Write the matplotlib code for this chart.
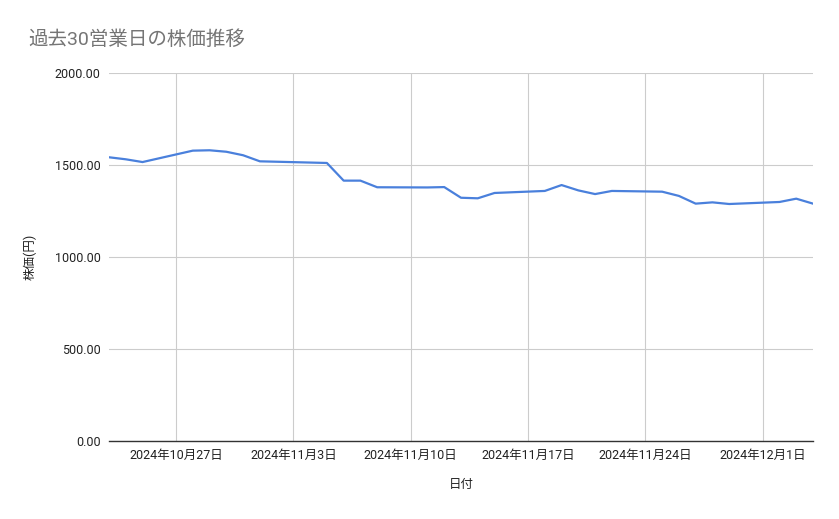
import matplotlib.pyplot as plt
import pandas as pd

plt.rcParams['font.family'] = ['Roboto', 'Noto Sans CJK JP', 'DejaVu Sans']

# 営業日（11/4 は振替休日）
dates = [
    "2024-10-23", "2024-10-24", "2024-10-25", "2024-10-28", "2024-10-29",
    "2024-10-30", "2024-10-31", "2024-11-01", "2024-11-05", "2024-11-06",
    "2024-11-07", "2024-11-08", "2024-11-11", "2024-11-12", "2024-11-13",
    "2024-11-14", "2024-11-15", "2024-11-18", "2024-11-19", "2024-11-20",
    "2024-11-21", "2024-11-22", "2024-11-25", "2024-11-26", "2024-11-27",
    "2024-11-28", "2024-11-29", "2024-12-02", "2024-12-03", "2024-12-04",
]
prices = [
    1542, 1531, 1516, 1578, 1580, 1572, 1553, 1520, 1511, 1415,
    1415, 1379, 1378, 1380, 1322, 1319, 1348, 1359, 1391, 1362,
    1342, 1359, 1355, 1332, 1290, 1297, 1288, 1299, 1317, 1290,
]
tick_dates = ["2024-10-27", "2024-11-03", "2024-11-10", "2024-11-17",
              "2024-11-24", "2024-12-01"]
y_ticks = [0, 500, 1000, 1500, 2000]

x = pd.to_datetime(dates)
ticks = pd.to_datetime(tick_dates)

fig = plt.figure(figsize=(8.39, 5.19), dpi=100)
ax = fig.add_axes([109 / 839, 1 - 441 / 519, (813 - 109) / 839, (441 - 73) / 519])

ax.plot(x, prices, color="#4a80dc", linewidth=1.6)

ax.set_xlim(x[0], x[-1])
ax.set_ylim(0, 2000)
ax.set_yticks(y_ticks)
ax.set_yticklabels([f"{v:.2f}" for v in y_ticks])
ax.set_xticks(ticks)
ax.set_xticklabels([f"{d.year}年{d.month}月{d.day}日" for d in ticks])

ax.grid(True, color="#cccccc", linewidth=0.8)
ax.set_axisbelow(True)
for s in ["top", "right", "left"]:
    ax.spines[s].set_visible(False)
ax.spines["bottom"].set_color("#333333")
ax.spines["bottom"].set_linewidth(1.0)
ax.tick_params(axis="both", length=0, labelsize=9, colors="#222222", pad=6)

ax.set_xlabel("日付", fontsize=9, color="#222222", labelpad=11)
ax.set_ylabel("株価(円)", fontsize=9, color="#222222", labelpad=13)

fig.text(28 / 839, 1 - 40 / 519, "過去30営業日の株価推移", fontsize=14,
         color="#757575", va="center", ha="left")

fig.savefig("out.png", dpi=100)
